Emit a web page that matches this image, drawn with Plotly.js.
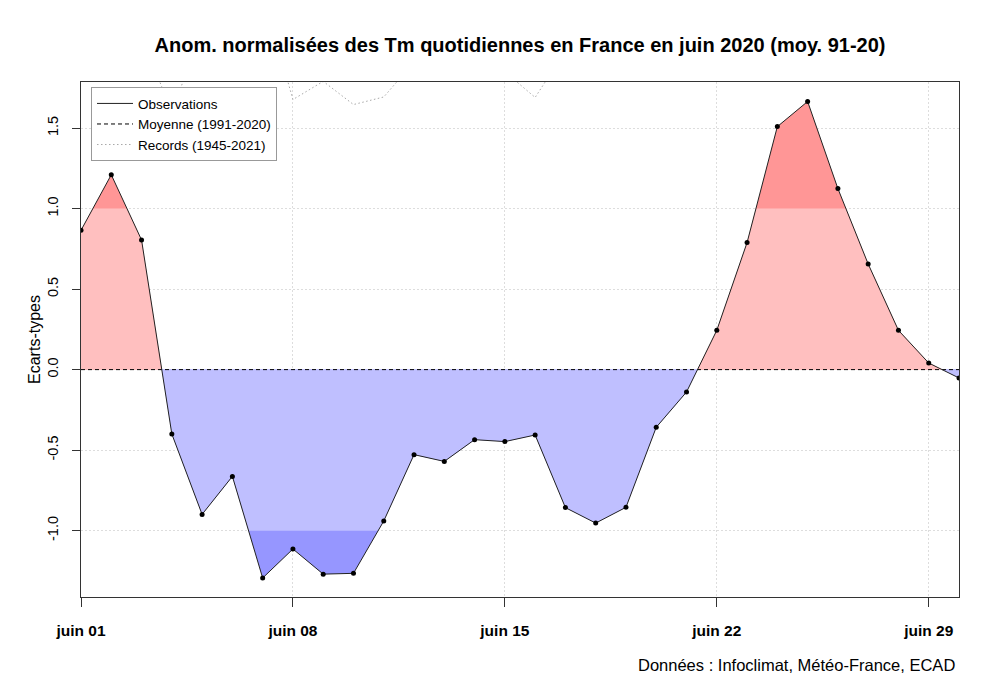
<!DOCTYPE html>
<html>
<head>
<meta charset="utf-8">
<script src="https://cdn.plot.ly/plotly-3.0.1.min.js"></script>
<style>html,body{margin:0;padding:0;background:#fff;}#chart{width:1000px;height:699px;}</style>
</head>
<body>
<div id="chart"></div>
<script>
// ---- data ----
const days = [1,2,3,4,5,6,7,8,9,10,11,12,13,14,15,16,17,18,19,20,21,22,23,24,25,26,27,28,29,30];
const observations = [0.865, 1.21, 0.805, -0.40, -0.899, -0.663, -1.294, -1.114, -1.27, -1.265,
  -0.94, -0.528, -0.57, -0.435, -0.447, -0.406, -0.857, -0.953, -0.855, -0.358,
  -0.139, 0.244, 0.789, 1.509, 1.665, 1.124, 0.656, 0.244, 0.041, -0.052];
const moyenne = [0,0,0,0,0,0,0,0,0,0,0,0,0,0,0,0,0,0,0,0,0,0,0,0,0,0,0,0,0,0];
const records = [2.2, 2.3, 2.07, 1.60, 2.11, 2.2, 2.34, 1.677, 1.79, 1.646,
  1.693, 1.91, 2.0, 1.95, 1.85, 1.69, 1.98, 2.1, 2.3, 2.2,
  2.4, 2.5, 2.6, 2.5, 2.7, 2.6, 2.5, 2.4, 2.3, 2.4];
const xTickVals = [1, 8, 15, 22, 29];
const xTickText = ["juin 01", "juin 08", "juin 15", "juin 22", "juin 29"];
const yTickVals = [-1, -0.5, 0, 0.5, 1, 1.5];
const yTickText = ["-1.0", "-0.5", "0.0", "0.5", "1.0", "1.5"];
const levels = [-1, 0, 1];

// ---- fill geometry: add crossing points at band levels ----
const ax = [], av = [];
for (let i = 0; i < days.length; i++) {
  ax.push(days[i]); av.push(observations[i]);
  if (i < days.length - 1) {
    const a = observations[i], b = observations[i + 1];
    const cr = [];
    levels.forEach(L => {
      if ((a - L) * (b - L) < 0) cr.push({t: (L - a) / (b - a), L: L});
    });
    cr.sort((p, q) => p.t - q.t);
    cr.forEach(c => { ax.push(days[i] + c.t * (days[i + 1] - days[i])); av.push(c.L); });
  }
}
const clamp = (v, lo, hi) => Math.min(Math.max(v, lo), hi);
function fillTrace(y, color) {
  return {x: ax, y: y, type: 'scatter', mode: 'lines', fill: 'tozeroy',
    fillcolor: color, line: {width: 0, color: color}, showlegend: false, hoverinfo: 'skip'};
}
const traces = [
  fillTrace(av.map(v => Math.max(v, 0)), '#FF9696'),
  fillTrace(av.map(v => clamp(v, 0, 1)), '#FFBFBF'),
  fillTrace(av.map(v => Math.min(v, 0)), '#9696FF'),
  fillTrace(av.map(v => clamp(v, -1, 0)), '#BFBFFF'),
  {x: days, y: records, type: 'scatter', mode: 'lines', name: 'Records (1945-2021)',
    line: {color: '#a8a8a8', width: 1, dash: '1.5px,2.5px'}, legendrank: 3},
  {x: days, y: moyenne, type: 'scatter', mode: 'lines', name: 'Moyenne (1991-2020)',
    line: {color: '#000000', width: 1, dash: '4px,3px'}, legendrank: 2},
  {x: days, y: observations, type: 'scatter', mode: 'lines', name: 'Observations',
    line: {color: '#222222', width: 1}, legendrank: 1},
  {x: days, y: observations, type: 'scatter', mode: 'markers', name: 'Observations',
    marker: {color: '#000000', size: 5}, showlegend: false}
];

const layout = {
  width: 1000, height: 699,
  margin: {l: 81, r: 41, t: 82, b: 102},
  paper_bgcolor: '#ffffff', plot_bgcolor: '#ffffff',
  font: {family: 'Liberation Sans, Arial, sans-serif', color: '#000'},
  title: {text: 'Anom. normalisées des Tm quotidiennes en France en juin 2020 (moy. 91-20)',
    font: {size: 20, weight: 'bold', family: 'Liberation Sans, Arial, sans-serif', color: '#000'},
    xref: 'paper', x: 0.5, xanchor: 'center', yref: 'container', y: 1 - 45 / 699, yanchor: 'middle'},
  xaxis: {range: [1, 30], tickvals: xTickVals, ticktext: xTickText,
    ticks: 'outside', ticklen: 9, tickcolor: '#333', tickwidth: 1,
    showline: true, linecolor: '#333', linewidth: 1, mirror: true,
    showgrid: true, gridcolor: '#dddddd', griddash: '2px,2px', gridwidth: 1,
    zeroline: false, ticklabelstandoff: 10,
    tickfont: {size: 15.5, weight: 'bold', color: '#000'}},
  yaxis: {range: [-1.412, 1.786], tickvals: yTickVals, ticktext: yTickText,
    ticks: 'outside', ticklen: 8, tickcolor: '#333', tickwidth: 1,
    showline: true, linecolor: '#333', linewidth: 1, mirror: true,
    showgrid: true, gridcolor: '#dddddd', griddash: '2px,2px', gridwidth: 1,
    zeroline: false, tickangle: -90, ticklabelstandoff: 8,
    tickfont: {size: 14.5, color: '#000'},
    title: {text: 'Ecarts-types', font: {size: 16, color: '#000'}, standoff: 0}},
  showlegend: true,
  legend: {x: 0.0114, y: 0.99, xanchor: 'left', yanchor: 'top',
    bgcolor: '#ffffff', bordercolor: '#999999', borderwidth: 1, itemwidth: 36,
    font: {size: 13.5, color: '#000'}, traceorder: 'normal'},
  annotations: [{text: 'Données : Infoclimat, Météo-France, ECAD', xref: 'paper', yref: 'paper',
    x: 1, y: -(665 - 596.7) / 515, xanchor: 'right', yanchor: 'middle', xshift: -2,
    showarrow: false, font: {size: 16.5, color: '#000'}}]
};
Plotly.newPlot('chart', traces, layout, {staticPlot: true, displayModeBar: false});
</script>
</body>
</html>
